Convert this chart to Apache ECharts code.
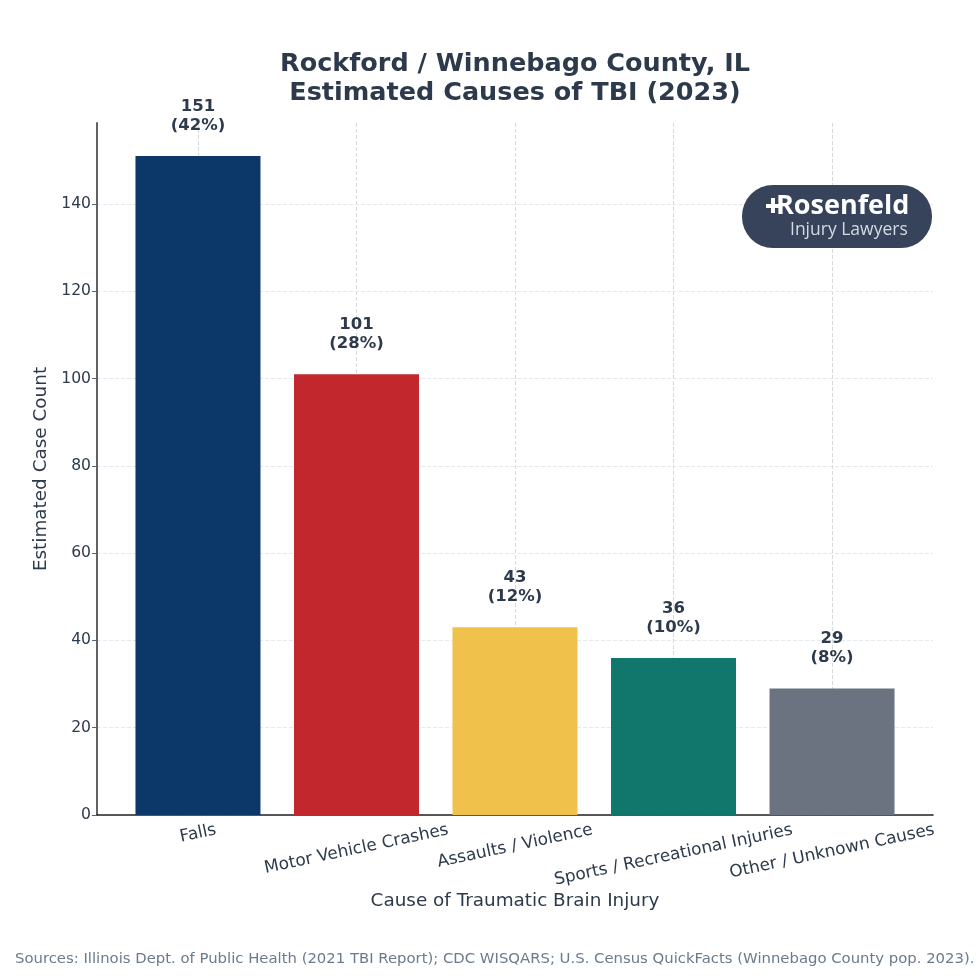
<!DOCTYPE html>
<html>
<head>
<meta charset="utf-8">
<title>Estimated Causes of TBI</title>
<script src="https://cdn.jsdelivr.net/npm/echarts@6/dist/echarts.min.js"></script>
<style>
html, body { margin: 0; padding: 0; background: #fff; }
#main { width: 980px; height: 980px; }
</style>
</head>
<body>
<div id="main"></div>
<script>
var categories = ['Falls', 'Motor Vehicle Crashes', 'Assaults / Violence', 'Sports / Recreational Injuries', 'Other / Unknown Causes'];
var caseCounts = [151, 101, 43, 36, 29];
var shares = ['42%', '28%', '12%', '10%', '8%'];
var barColors = ['#0b3769', '#c1272d', '#f0c24b', '#11776d', '#6b7280'];
var yTicks = [0, 20, 40, 60, 80, 100, 120, 140];
var xTicks = [0, 1, 2, 3, 4];

var FONT = '"DejaVu Sans", sans-serif';
var DARK = '#2d3a4b';
var LABEL_ANGLE = 12 * Math.PI / 180;
var myChart = echarts.init(document.getElementById('main'));

// height of a label once it is turned, so the tops line up
function halfHeight(text) {
    var ctx = document.createElement('canvas').getContext('2d');
    ctx.font = '16.9px "DejaVu Sans"';
    var w = ctx.measureText(text).width;
    return (w * Math.sin(LABEL_ANGLE) + 19 * Math.cos(LABEL_ANGLE)) / 2;
}

var option = {
    animation: false,
    backgroundColor: '#fff',
    title: [{
        text: 'Rockford / Winnebago County, IL\nEstimated Causes of TBI (2023)',
        left: 510, top: 45.5, textAlign: 'center',
        textStyle: { fontFamily: FONT, fontSize: 25.5, fontWeight: 'bold', color: DARK, lineHeight: 28.5 }
    }, {
        text: 'Sources: Illinois Dept. of Public Health (2021 TBI Report); CDC WISQARS; U.S. Census QuickFacts (Winnebago County pop. 2023).',
        left: 10, top: 947,
        textStyle: { fontFamily: FONT, fontSize: 14.85, fontWeight: 'normal', color: '#6b7a8c' }
    }],
    grid: { left: 97, right: 47, top: 123, bottom: 165 },
    xAxis: {
        type: 'value', min: -0.637, max: 4.637,
        name: 'Cause of Traumatic Brain Injury', nameLocation: 'middle', nameGap: 77,
        nameTextStyle: { fontFamily: FONT, fontSize: 18.4, color: DARK },
        axisLine: { onZero: false, lineStyle: { color: '#222', width: 1.6 } },
        axisTick: { show: false, customValues: xTicks },
        axisLabel: { show: false, customValues: xTicks },
        splitLine: { show: true, lineStyle: { color: '#d6d9dd', type: 'dashed', width: 1 } }
    },
    yAxis: {
        type: 'value', min: 0, max: 158.55,
        name: 'Estimated Case Count', nameLocation: 'middle', nameGap: 39,
        nameTextStyle: { fontFamily: FONT, fontSize: 18.4, color: DARK },
        axisLine: { show: true, onZero: false, lineStyle: { color: '#5f6368', width: 2 } },
        axisTick: { show: true, length: 5, customValues: yTicks, lineStyle: { color: '#5f6368', width: 1 } },
        axisLabel: { customValues: yTicks, fontFamily: FONT, fontSize: 15.6, color: DARK, margin: 6, padding: [3, 0, 0, 0] },
        splitLine: { show: true, lineStyle: { color: '#e6e8eb', type: 'dashed', width: 1 } }
    },
    series: [{
        type: 'bar',
        barWidth: 125,
        data: caseCounts.map(function (v, i) {
            return { value: [i, v], itemStyle: { color: barColors[i] } };
        }),
        label: {
            show: true, position: 'top', distance: 21,
            fontFamily: FONT, fontSize: 16.5, fontWeight: 'bold', color: DARK, lineHeight: 19,
            formatter: function (p) {
                return caseCounts[p.dataIndex] + '\n(' + shares[p.dataIndex] + ')';
            }
        }
    }, {
        type: 'custom',
        silent: true,
        data: xTicks,
        encode: { x: 0 },
        renderItem: function (params, api) {
            var name = categories[params.dataIndex];
            var pt = api.coord([api.value(0), 0]);
            return {
                type: 'text',
                x: pt[0],
                y: pt[1] + 5.5 + halfHeight(name),
                rotation: LABEL_ANGLE,
                style: {
                    text: name, fill: DARK,
                    font: '16.9px ' + FONT,
                    align: 'center', verticalAlign: 'middle'
                }
            };
        }
    }],
    graphic: [{
        type: 'rect', z: 10,
        shape: { x: 742, y: 185, width: 190, height: 63, r: 31 },
        style: { fill: '#36435a' }
    }, {
        type: 'rect', z: 11,
        shape: { x: 766, y: 204, width: 13, height: 4 },
        style: { fill: '#fff' }
    }, {
        type: 'rect', z: 11,
        shape: { x: 771, y: 198, width: 4, height: 15 },
        style: { fill: '#fff' }
    }, {
        type: 'text', z: 11, x: 776, y: 193,
        style: { text: 'Rosenfeld', fill: '#fff', font: '700 27px "Open Sans"' }
    }, {
        type: 'text', z: 11, x: 790, y: 221,
        style: { text: 'Injury Lawyers', fill: '#d5dae2', font: '17.5px "Open Sans"' }
    }]
};
myChart.setOption(option);
</script>
</body>
</html>
